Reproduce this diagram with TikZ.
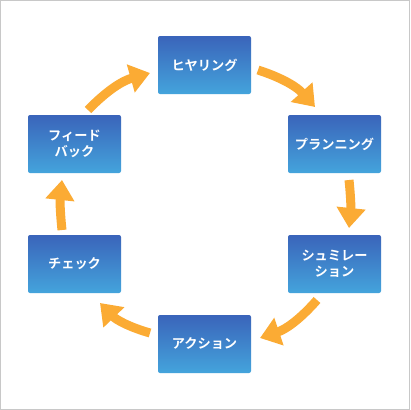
\documentclass[tikz,border=0pt]{standalone}
\usepackage{fontspec}
\usetikzlibrary{arrows.meta}
\newfontfamily\jpfont{Noto Sans CJK JP Bold}
\definecolor{boxtop}{RGB}{58,100,186}
\definecolor{boxbottom}{RGB}{68,164,220}
\definecolor{flow}{RGB}{251,171,52}
\definecolor{frame}{RGB}{200,200,200}

\begin{document}
\begin{tikzpicture}[x=1pt,y=-1pt,
  every node/.style={font=\jpfont\fontsize{13.2}{16.5}\selectfont,text=white,align=center},
  stepbox/.style={rounded corners=2pt,top color=boxtop,bottom color=boxbottom,minimum width=93pt,minimum height=58pt,inner sep=0pt},
  flowarrow/.style={-{Triangle[width=28pt,length=20pt]},line width=9pt,flow}]
  \draw[frame,line width=1pt,fill=white] (0.5,0.5) rectangle (409.5,409.5);
  \node[stepbox] (hearing) at (204.5,65) {ヒヤリング};
  \node[stepbox] (planning) at (334.5,144) {プランニング};
  \node[stepbox] (simulation) at (334.5,264) {シュミレー\\ション};
  \node[stepbox] (action) at (204.5,344) {アクション};
  \node[stepbox] (check) at (74.5,264) {チェック};
  \node[stepbox] (feedback) at (74.5,144) {フィード\\バック};
  % arrow ends between the boxes
  \coordinate (h-out) at (258,70);   \coordinate (p-in) at (315,107);
  \coordinate (p-out) at (349,180);  \coordinate (s-in) at (349,228);
  \coordinate (s-out) at (317,300);  \coordinate (a-in) at (260,338);
  \coordinate (a-out) at (150,333);  \coordinate (c-in) at (100,303);
  \coordinate (c-out) at (62,230);   \coordinate (f-in) at (62,180);
  \coordinate (f-out) at (88,110);   \coordinate (h-in) at (150,73);
  \foreach \x/\y/\b in {h-out/p-in/15,p-out/s-in/6,s-out/a-in/15,a-out/c-in/15,c-out/f-in/6,f-out/h-in/15}{\draw[flowarrow] (\x) to[bend left=\b] (\y);}
\end{tikzpicture}
\end{document}
